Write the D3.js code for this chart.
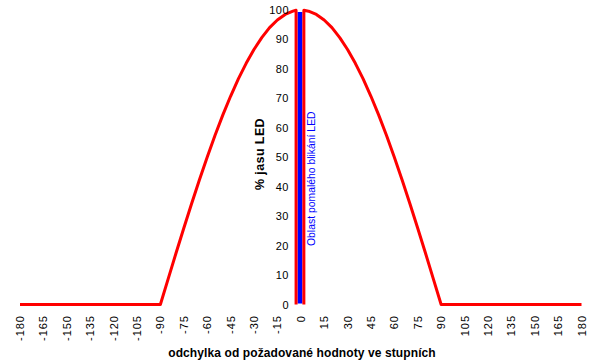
<!DOCTYPE html>
<html>
<head>
<meta charset="utf-8">
<script src="https://cdn.jsdelivr.net/npm/d3@7"></script>
<style>
  body { margin: 0; background: #fff; }
  svg { display: block; font-family: Arial, "Liberation Sans", sans-serif; }
</style>
</head>
<body>
<svg width="594" height="363"></svg>
<script>
// left branch of the brightness curve (deg, %)
const leftAngles = [-180, -90, -85, -80, -75, -70, -65, -60, -55, -50, -45, -40, -35, -30, -25, -20, -15, -10, -5, -3, -3]
const leftValues = [0, 0, 8.7, 17.4, 25.9, 34.2, 42.3, 50, 57.4, 64.3, 70.7, 76.6, 81.9, 86.6, 90.6, 94, 96.6, 98.5, 99.6, 99.9, 0]
// right branch
const rightAngles = [2, 2, 5, 10, 15, 20, 25, 30, 35, 40, 45, 50, 55, 60, 65, 70, 75, 80, 85, 90, 180]
const rightValues = [0, 99.9, 99.6, 98.5, 96.6, 94, 90.6, 86.6, 81.9, 76.6, 70.7, 64.3, 57.4, 50, 42.3, 34.2, 25.9, 17.4, 8.7, 0, 0]
// slow blinking zone
const blinkZone = [-3, 2]
const xTicks = d3.range(-180, 181, 15)
const yTicks = d3.range(0, 101, 10)

const svg = d3.select('svg')
const x = d3.scaleLinear().domain([-180, 180]).range([20, 581.5])
const y = d3.scaleLinear().domain([0, 100]).range([304.5, 10])

// blue zone
svg.append('rect')
    .attr('x', x(blinkZone[0]) + 1.5)
    .attr('y', y(100) + 2)
    .attr('width', x(blinkZone[1]) - x(blinkZone[0]) - 3)
    .attr('height', y(0) - y(100) - 3)
    .attr('fill', '#0000ff')

const line = d3.line().x(d => x(d[0])).y(d => y(d[1]))
const left = leftAngles.map((a, i) => [a, leftValues[i]])
const right = rightAngles.map((a, i) => [a, rightValues[i]])
svg.selectAll('.curve')
    .data([left, right])
    .enter()
    .append('path')
    .classed('curve', true)
    .attr('d', line)
    .attr('fill', 'none')
    .attr('stroke', '#ff0000')
    .attr('stroke-width', 3)
    .attr('stroke-linejoin', 'round')

// y tick labels
svg.selectAll('.ylab')
    .data(yTicks)
    .enter()
    .append('text')
    .classed('ylab', true)
    .attr('x', 289)
    .attr('y', d => y(d) + 4)
    .attr('text-anchor', 'end')
    .attr('font-size', 11)
    .attr('letter-spacing', 0.5)
    .text(d => d)

// x tick labels, rotated
svg.selectAll('.xlab')
    .data(xTicks)
    .enter()
    .append('text')
    .classed('xlab', true)
    .attr('transform', d => `translate(${x(d) + 4},315) rotate(-90)`)
    .attr('text-anchor', 'end')
    .attr('font-size', 11)
    .attr('letter-spacing', 1)
    .text(d => d)

svg.append('text')
    .attr('transform', 'translate(264,154) rotate(-90)')
    .attr('text-anchor', 'middle')
    .attr('font-size', 12.5)
    .attr('font-weight', 'bold')
    .attr('letter-spacing', 0.4)
    .text('% jasu LED')

svg.append('text')
    .attr('transform', 'translate(315,246) rotate(-90)')
    .attr('text-anchor', 'start')
    .attr('font-size', 10.4)
    .attr('fill', '#0000ff')
    .text('Oblast pomalého blikání LED')

svg.append('text')
    .attr('x', 302)
    .attr('y', 357)
    .attr('text-anchor', 'middle')
    .attr('font-size', 12)
    .attr('font-weight', 'bold')
    .attr('letter-spacing', 0.1)
    .text('odchylka od požadované hodnoty ve stupních')
</script>
</body>
</html>
